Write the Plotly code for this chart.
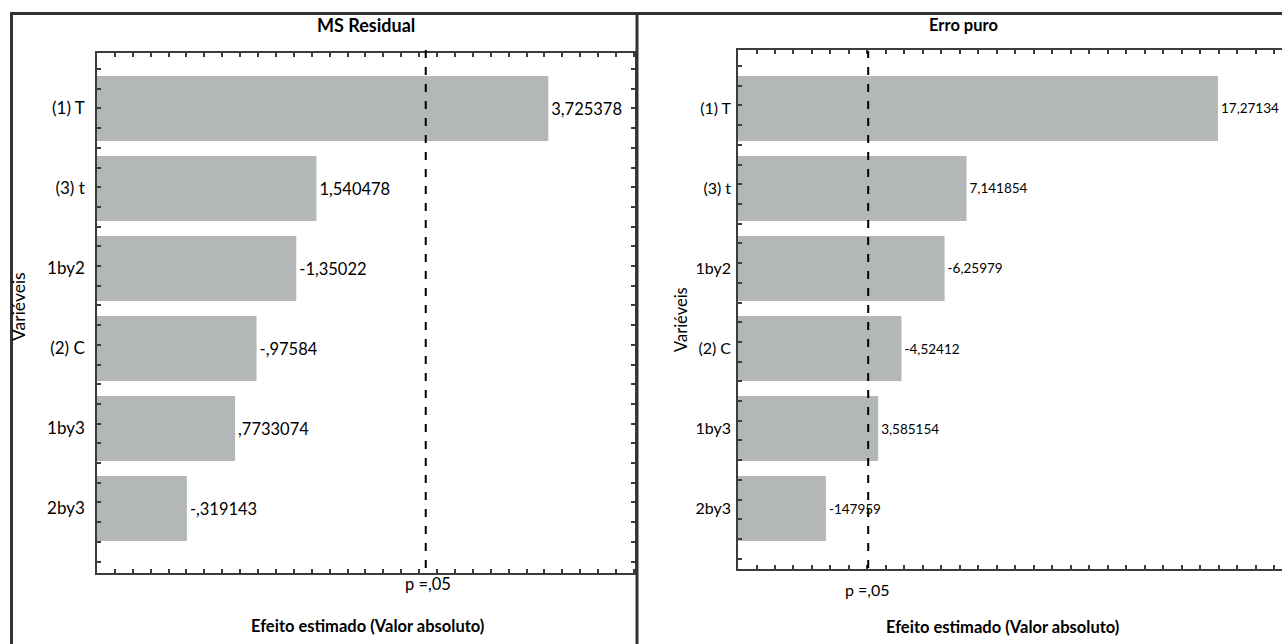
import plotly.graph_objects as go

# ---------------- data ----------------
categories = ["(1) T", "(3) t", "1by2", "(2) C", "1by3", "2by3"]

ms_effects = [3.725378, 1.540478, -1.35022, -0.97584, 0.7733074, -0.319143]
ms_labels = ["3,725378", "1,540478", "-1,35022", "-,97584", ",7733074", "-,319143"]
ms_p05 = 2.5706

pe_effects = [17.27134, 7.141854, -6.25979, -4.52412, 3.585154, -1.47959]
pe_labels = ["17,27134", "7,141854", "-6,25979", "-4,52412", "3,585154", "-147959"]
pe_p05 = 3.1824

# axis ranges (absolute-effect scale)
ms_xrange = [-0.528, 4.543]
pe_xrange = [-2.062, 19.85]

W, H = 1282, 644
FONT = "Lato"
BAR = "#b4b7b8"
AX = "#3c3c3c"


def px(x):
    return x / W


def py(y):
    return 1 - y / H


fig = go.Figure()

panels = [
    dict(vals=ms_effects, labels=ms_labels, xr=ms_xrange, p=ms_p05,
         xa="x", ya="y", fs=16.5, dtick=0.1687),
    dict(vals=pe_effects, labels=pe_labels, xr=pe_xrange, p=pe_p05,
         xa="x2", ya="y2", fs=13.5, dtick=0.745),
]

for pn in panels:
    base = pn["xr"][0]
    fig.add_trace(go.Bar(
        y=categories,
        x=[abs(v) - base for v in pn["vals"]],
        base=base,
        orientation="h",
        width=0.81,
        marker=dict(color=BAR, line=dict(width=0)),
        text=pn["labels"],
        textposition="outside",
        constraintext="none",
        cliponaxis=False,
        textfont=dict(family=FONT, size=pn["fs"], color="black"),
        xaxis=pn["xa"], yaxis=pn["ya"],
        showlegend=False,
        hoverinfo="skip",
    ))

# invisible traces to activate overlay tick axes
fig.add_trace(go.Scatter(x=[None], y=[None], xaxis="x", yaxis="y3", showlegend=False))
fig.add_trace(go.Scatter(x=[None], y=[None], xaxis="x2", yaxis="y4", showlegend=False))

left_dom = [px(97), px(635)]
right_dom = [px(738), 1.0]
left_ydom = [py(573), py(53)]
right_ydom = [py(569), py(50)]
left_yr = [5.806, -0.694]
right_yr = [5.756, -0.731]

common_x = dict(showgrid=False, zeroline=False, showline=True, linecolor=AX, linewidth=1.5,
                ticks="inside", ticklen=4, tickwidth=1.5, tickcolor=AX,
                showticklabels=False, mirror="ticks", tickmode="linear")

fig.update_layout(
    width=W, height=H,
    margin=dict(l=0, r=0, t=0, b=0),
    paper_bgcolor="white", plot_bgcolor="white",
    font=dict(family=FONT, color="black"),
    bargap=0.19,
    xaxis=dict(domain=left_dom, range=ms_xrange, anchor="y",
               tick0=ms_xrange[0], dtick=panels[0]["dtick"], **common_x),
    xaxis2=dict(domain=right_dom, range=pe_xrange, anchor="y2",
                tick0=pe_xrange[0], dtick=panels[1]["dtick"], **common_x),
    yaxis=dict(domain=left_ydom, range=left_yr, type="category", categoryarray=categories,
               anchor="x", showgrid=False, zeroline=False, showline=True, linecolor=AX,
               linewidth=1.5, mirror=True, ticks="", ticklabelstandoff=7,
               tickfont=dict(family=FONT, size=17, color="black")),
    yaxis2=dict(domain=right_ydom, range=right_yr, type="category", categoryarray=categories,
                anchor="x2", showgrid=False, zeroline=False, showline=True, linecolor=AX,
                linewidth=1.5, mirror=False, ticks="", ticklabelstandoff=2,
                tickfont=dict(family=FONT, size=16, color="black")),
    yaxis3=dict(domain=left_ydom, range=left_yr, overlaying="y", anchor="x", side="left",
                showgrid=False, zeroline=False, showline=False, showticklabels=False,
                ticks="inside", ticklen=4, tickwidth=1.5, tickcolor=AX, mirror="ticks",
                tickmode="linear", tick0=-0.494, dtick=0.2463),
    yaxis4=dict(domain=right_ydom, range=right_yr, overlaying="y2", anchor="x2", side="left",
                showgrid=False, zeroline=False, showline=False, showticklabels=False,
                ticks="inside", ticklen=4, tickwidth=1.5, tickcolor=AX,
                tickmode="linear", tick0=-0.53, dtick=0.2463),
)

shapes = []
# p = .05 dashed lines
shapes.append(dict(type="line", xref="x", yref="paper", x0=ms_p05, x1=ms_p05,
                   y0=py(568), y1=py(47), line=dict(color="black", width=2, dash="8px,9px")))
shapes.append(dict(type="line", xref="x2", yref="paper", x0=pe_p05, x1=pe_p05,
                   y0=py(568), y1=py(51), line=dict(color="black", width=2, dash="8px,9px")))
# outer frame
FR = "#333333"
shapes.append(dict(type="line", xref="paper", yref="paper", x0=px(10), x1=1.0,
                   y0=py(13.5), y1=py(13.5), line=dict(color=FR, width=3)))
shapes.append(dict(type="line", xref="paper", yref="paper", x0=px(11.5), x1=px(11.5),
                   y0=py(12), y1=0, line=dict(color=FR, width=3)))
shapes.append(dict(type="line", xref="paper", yref="paper", x0=px(637), x1=px(637),
                   y0=py(12), y1=0, line=dict(color=FR, width=3)))
fig.update_layout(shapes=shapes)


def ann(text, x, y, size, bold=False, angle=0):
    return dict(text=f"<b>{text}</b>" if bold else text, xref="paper", yref="paper",
                x=px(x), y=py(y), xanchor="center", yanchor="middle", showarrow=False,
                textangle=angle, font=dict(family=FONT, size=size, color="black"))


fig.update_layout(annotations=[
    ann("MS Residual", 366, 25, 18, bold=True),
    ann("Erro puro", 963, 25, 16.5, bold=True),
    ann("p =,05", 428, 584, 16.5),
    ann("p =,05", 867, 589, 16),
    ann("Efeito estimado (Valor absoluto)", 367, 626, 16.5, bold=True),
    ann("Efeito estimado (Valor absoluto)", 1003, 627, 16.5, bold=True),
    ann("Variéveis", 19, 307, 17.5, angle=-90),
    ann("Variéveis", 681, 320, 16.5, angle=-90),
])

fig.write_html("out.html", config={"displayModeBar": False},
               post_script="document.body.style.margin='0px';document.body.style.padding='0px';")
